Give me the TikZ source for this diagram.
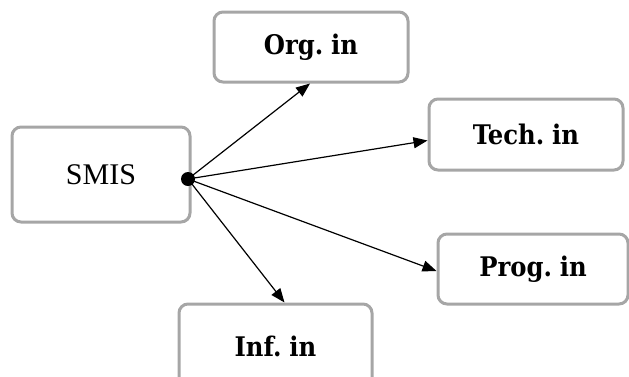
\documentclass[tikz,border=0pt]{standalone}
\usepackage{fontspec}
\setmainfont{Liberation Serif}
\newfontfamily\labelfont[WordSpace=0.6]{DejaVu Serif Condensed}
\usetikzlibrary{arrows.meta}
\definecolor{boxgray}{HTML}{A6A6A6}
\begin{document}
\begin{tikzpicture}[x=1pt,y=-1pt,
  box/.style={draw=boxgray, line width=3pt, rounded corners=9pt, fill=white,
    inner sep=0pt, font=\labelfont\fontsize{27}{32}\selectfont\bfseries},
  conn/.style={line width=1.2pt, -{Triangle[length=14pt,width=11pt]}}]
\useasboundingbox (0,0) rectangle (629,376);
\clip (0,0) rectangle (629,376);
\node[box, minimum width=178pt, minimum height=95pt, font=\rmfamily\fontsize{30}{34}\selectfont] (smis) at (101,174.5) {SMIS};
\node[box, minimum width=194pt, minimum height=70pt] (org) at (311,47) {Org. in};
\node[box, minimum width=194pt, minimum height=71pt] (tech) at (526,134.5) {Tech. in};
\node[box, minimum width=190pt, minimum height=70pt] (prog) at (533,269) {Prog. in};
\node[box, minimum width=193pt, minimum height=84pt] (inf) at (275.5,346) {Inf. in};
\node[circle, fill=black, inner sep=0pt, minimum size=14pt] (hub) at (188,179) {};
\draw[conn] (hub.center) -- ([xshift=-1pt]org.south);
\draw[conn] (hub.center) -- ([yshift=-6pt]tech.west);
\draw[conn] (hub.center) -- ([yshift=-2pt]prog.west);
\draw[conn] (hub.center) -- ([xshift=9pt]inf.north);
\end{tikzpicture}
\end{document}
